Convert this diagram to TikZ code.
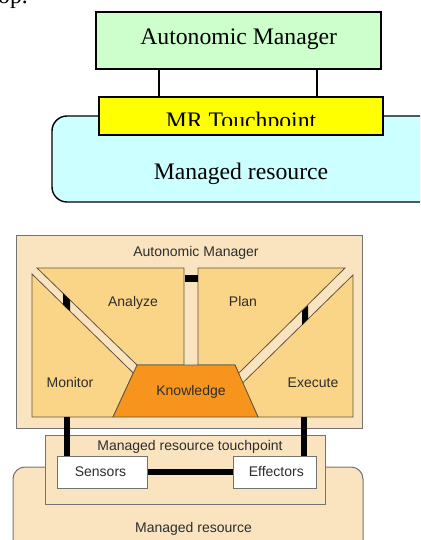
\documentclass[tikz,border=0pt]{standalone}
\usepackage{fontspec}
\setmainfont{Liberation Serif}
\setsansfont{Liberation Sans}
\definecolor{amgreen}{RGB}{204,255,204}
\definecolor{tpyellow}{RGB}{255,255,0}
\definecolor{mrcyan}{RGB}{204,255,255}
\definecolor{bisque}{RGB}{250,228,192}
\definecolor{quadfill}{RGB}{250,213,135}
\definecolor{knowfill}{RGB}{247,148,30}
\definecolor{edgegray}{RGB}{115,115,115}
\definecolor{quadedge}{RGB}{95,85,65}
\definecolor{txtgray}{RGB}{45,45,45}
\tikzset{
  topbox/.style={draw=black, line width=1.4pt, inner sep=0pt},
  toptext/.style={font=\fontsize{23.7}{28}\selectfont, anchor=base, inner sep=0pt},
  lowbox/.style={draw=edgegray, line width=1pt, inner sep=0pt},
  quad/.style={draw=quadedge, line width=0.8pt, fill=quadfill},
  lowtext/.style={font=\sffamily\fontsize{14}{16}\selectfont, text=txtgray, anchor=base, inner sep=0pt},
  bus/.style={line width=6pt, black}
}
\begin{document}
\begin{tikzpicture}[x=1pt,y=-1pt]
\useasboundingbox (0,0) rectangle (420,540);
\clip (0,0) rectangle (420,540);
\node[toptext, anchor=base west] (optext) at (-2,3.5) {op.};

% top sketch
\draw[topbox, fill=mrcyan, rounded corners=15pt] (52,116) rectangle (440,202);
\node[topbox, fill=amgreen, minimum width=285pt, minimum height=57pt] (am) at (238.5,40.5) {};
\node[toptext] (amtext) at (238.7,45) {Autonomic Manager};
\node[topbox, fill=tpyellow, minimum width=284pt, minimum height=38pt] (mrtp) at (241,116) {};
\begin{scope}
\clip (99,97) rectangle (383,126);
\node[toptext] (mrtptext) at (241,129) {MR Touchpoint};
\end{scope}
\node[toptext] (mrtext) at (241,179.5) {Managed resource};
\draw[black, line width=1.4pt] (159,0 |- am.south) -- (159,0 |- mrtp.north);
\draw[black, line width=1.4pt] (317,0 |- am.south) -- (317,0 |- mrtp.north);

% autonomic manager detail
\draw[lowbox, fill=bisque] (16,235) rectangle (362,428);
\node[lowtext] (amlabel) at (196,256) {Autonomic Manager};
\draw[quad] (37,268) -- (184,268) -- (184,365) -- (137,365) -- cycle;
\draw[quad] (198,268) -- (345,268) -- (238.6,373.3) -- (235,365) -- (198,365) -- cycle;
\draw[quad] (32,274) -- (133.3,373) -- (113,417) -- (32,417) -- cycle;
\draw[quad] (353,275) -- (353,417) -- (258,417) -- (242.6,383) -- cycle;
\draw[quad, fill=knowfill] (137,365) -- (235,365) -- (258,417) -- (113,417) -- cycle;
\fill[black] (184.5,275) rectangle (197.5,282);
\fill[black] (63,293.2) -- (70,300) -- (70,311.2) -- (63,304.4) -- cycle;
\fill[black] (302,311.1) -- (308,305.3) -- (308,319.2) -- (302,325.1) -- cycle;
\node[lowtext] (analyze) at (133,306) {Analyze};
\node[lowtext] (plan) at (243,306) {Plan};
\node[lowtext] (monitor) at (70,387) {Monitor};
\node[lowtext] (execute) at (313,387) {Execute};
\node[lowtext] (knowledge) at (191,395) {Knowledge};

% managed resource and touchpoint
\draw[lowbox, fill=bisque, rounded corners=12pt] (13,467) rectangle (363,570);
\node[lowbox, fill=bisque, minimum width=280pt, minimum height=69pt] (tp) at (185,469.5) {};
\node[lowtext] (tplabel) at (190,450) {Managed resource touchpoint};
\node[lowtext] (mrlabel) at (193.5,532) {Managed resource};
\node[lowbox, fill=white, minimum width=89.5pt, minimum height=32pt] (sensors) at (102.25,472) {};
\node[lowbox, fill=white, minimum width=83pt, minimum height=32pt] (effectors) at (274.5,472) {};
\node[lowtext] (senstext) at (100.5,476) {Sensors};
\node[lowtext] (efftext) at (276.3,476) {Effectors};
\coordinate (monout) at (67,417);
\coordinate (exeout) at (304.3,417);
\draw[bus] (monout) -- (monout |- sensors.north);
\draw[bus] (exeout) -- (exeout |- effectors.north);
\draw[bus, line width=5.5pt] (sensors.east) -- (effectors.west);
\end{tikzpicture}
\end{document}
